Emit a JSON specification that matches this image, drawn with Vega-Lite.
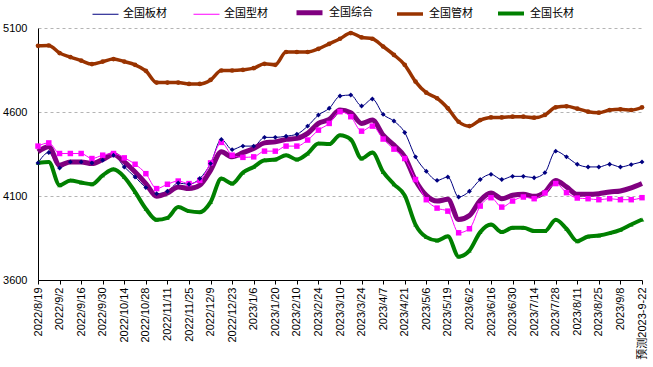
{
"$schema":"https://vega.github.io/schema/vega-lite/v6.json",
"width":604,"height":252,
"autosize":{"type":"none"},
"padding":{"left":38,"top":28,"right":11,"bottom":87},
"background":"white",
"config":{"view":{"stroke":null},"font":"Liberation Sans, Noto Sans CJK SC, sans-serif"},
"data":{"values":[
{"d":"2022/8/19","s":"全国板材","v":4297},{"d":"2022/8/26","s":"全国板材","v":4359},{"d":"2022/9/2","s":"全国板材","v":4267},{"d":"2022/9/9","s":"全国板材","v":4303},{"d":"2022/9/16","s":"全国板材","v":4303},{"d":"2022/9/23","s":"全国板材","v":4297},{"d":"2022/9/30","s":"全国板材","v":4313},{"d":"2022/10/7","s":"全国板材","v":4343},{"d":"2022/10/14","s":"全国板材","v":4273},{"d":"2022/10/21","s":"全国板材","v":4213},
{"d":"2022/10/28","s":"全国板材","v":4150},{"d":"2022/11/4","s":"全国板材","v":4114},{"d":"2022/11/11","s":"全国板材","v":4128},{"d":"2022/11/18","s":"全国板材","v":4177},{"d":"2022/11/25","s":"全国板材","v":4170},{"d":"2022/12/2","s":"全国板材","v":4204},{"d":"2022/12/9","s":"全国板材","v":4293},{"d":"2022/12/16","s":"全国板材","v":4437},{"d":"2022/12/23","s":"全国板材","v":4376},{"d":"2022/12/30","s":"全国板材","v":4397},
{"d":"2023/1/6","s":"全国板材","v":4397},{"d":"2023/1/13","s":"全国板材","v":4449},{"d":"2023/1/20","s":"全国板材","v":4449},{"d":"2023/2/3","s":"全国板材","v":4456},{"d":"2023/2/10","s":"全国板材","v":4468},{"d":"2023/2/17","s":"全国板材","v":4516},{"d":"2023/2/24","s":"全国板材","v":4582},{"d":"2023/3/3","s":"全国板材","v":4622},{"d":"2023/3/10","s":"全国板材","v":4695},{"d":"2023/3/17","s":"全国板材","v":4701},
{"d":"2023/3/24","s":"全国板材","v":4636},{"d":"2023/3/31","s":"全国板材","v":4677},{"d":"2023/4/7","s":"全国板材","v":4586},{"d":"2023/4/14","s":"全国板材","v":4546},{"d":"2023/4/21","s":"全国板材","v":4478},{"d":"2023/4/28","s":"全国板材","v":4333},{"d":"2023/5/6","s":"全国板材","v":4247},{"d":"2023/5/12","s":"全国板材","v":4193},{"d":"2023/5/19","s":"全国板材","v":4213},{"d":"2023/5/26","s":"全国板材","v":4094},
{"d":"2023/6/2","s":"全国板材","v":4128},{"d":"2023/6/9","s":"全国板材","v":4198},{"d":"2023/6/16","s":"全国板材","v":4229},{"d":"2023/6/21","s":"全国板材","v":4198},{"d":"2023/6/30","s":"全国板材","v":4217},{"d":"2023/7/7","s":"全国板材","v":4217},{"d":"2023/7/14","s":"全国板材","v":4209},{"d":"2023/7/21","s":"全国板材","v":4239},{"d":"2023/7/28","s":"全国板材","v":4367},{"d":"2023/8/4","s":"全国板材","v":4333},
{"d":"2023/8/11","s":"全国板材","v":4289},{"d":"2023/8/18","s":"全国板材","v":4273},{"d":"2023/8/25","s":"全国板材","v":4273},{"d":"2023/9/1","s":"全国板材","v":4289},{"d":"2023/9/8","s":"全国板材","v":4273},{"d":"2023/9/15","s":"全国板材","v":4287},{"d":"预测2023-9-22","s":"全国板材","v":4303},

{"d":"2022/8/19","s":"全国综合","v":4363},{"d":"2022/8/26","s":"全国综合","v":4393},{"d":"2022/9/2","s":"全国综合","v":4283},{"d":"2022/9/9","s":"全国综合","v":4303},{"d":"2022/9/16","s":"全国综合","v":4303},{"d":"2022/9/23","s":"全国综合","v":4293},{"d":"2022/9/30","s":"全国综合","v":4317},{"d":"2022/10/7","s":"全国综合","v":4347},{"d":"2022/10/14","s":"全国综合","v":4303},{"d":"2022/10/21","s":"全国综合","v":4243},
{"d":"2022/10/28","s":"全国综合","v":4174},{"d":"2022/11/4","s":"全国综合","v":4098},{"d":"2022/11/11","s":"全国综合","v":4118},{"d":"2022/11/18","s":"全国综合","v":4154},{"d":"2022/11/25","s":"全国综合","v":4144},{"d":"2022/12/2","s":"全国综合","v":4164},{"d":"2022/12/9","s":"全国综合","v":4253},{"d":"2022/12/16","s":"全国综合","v":4363},{"d":"2022/12/23","s":"全国综合","v":4333},{"d":"2022/12/30","s":"全国综合","v":4358},
{"d":"2023/1/6","s":"全国综合","v":4383},{"d":"2023/1/13","s":"全国综合","v":4416},{"d":"2023/1/20","s":"全国综合","v":4422},{"d":"2023/2/3","s":"全国综合","v":4437},{"d":"2023/2/10","s":"全国综合","v":4443},{"d":"2023/2/17","s":"全国综合","v":4473},{"d":"2023/2/24","s":"全国综合","v":4532},{"d":"2023/3/3","s":"全国综合","v":4556},{"d":"2023/3/10","s":"全国综合","v":4612},{"d":"2023/3/17","s":"全国综合","v":4596},
{"d":"2023/3/24","s":"全国综合","v":4532},{"d":"2023/3/31","s":"全国综合","v":4552},{"d":"2023/4/7","s":"全国综合","v":4462},{"d":"2023/4/14","s":"全国综合","v":4403},{"d":"2023/4/21","s":"全国综合","v":4333},{"d":"2023/4/28","s":"全国综合","v":4193},{"d":"2023/5/6","s":"全国综合","v":4104},{"d":"2023/5/12","s":"全国综合","v":4070},{"d":"2023/5/19","s":"全国综合","v":4080},{"d":"2023/5/26","s":"全国综合","v":3960},
{"d":"2023/6/2","s":"全国综合","v":3984},{"d":"2023/6/9","s":"全国综合","v":4074},{"d":"2023/6/16","s":"全国综合","v":4118},{"d":"2023/6/21","s":"全国综合","v":4084},{"d":"2023/6/30","s":"全国综合","v":4104},{"d":"2023/7/7","s":"全国综合","v":4110},{"d":"2023/7/14","s":"全国综合","v":4098},{"d":"2023/7/21","s":"全国综合","v":4124},{"d":"2023/7/28","s":"全国综合","v":4193},{"d":"2023/8/4","s":"全国综合","v":4154},
{"d":"2023/8/11","s":"全国综合","v":4110},{"d":"2023/8/18","s":"全国综合","v":4110},{"d":"2023/8/25","s":"全国综合","v":4114},{"d":"2023/9/1","s":"全国综合","v":4124},{"d":"2023/9/8","s":"全国综合","v":4130},{"d":"2023/9/15","s":"全国综合","v":4148},{"d":"预测2023-9-22","s":"全国综合","v":4174},

{"d":"2022/8/19","s":"全国管材","v":4994},{"d":"2022/8/26","s":"全国管材","v":4996},{"d":"2022/9/2","s":"全国管材","v":4951},{"d":"2022/9/9","s":"全国管材","v":4927},{"d":"2022/9/16","s":"全国管材","v":4906},{"d":"2022/9/23","s":"全国管材","v":4885},{"d":"2022/9/30","s":"全国管材","v":4900},{"d":"2022/10/7","s":"全国管材","v":4915},{"d":"2022/10/14","s":"全国管材","v":4900},{"d":"2022/10/21","s":"全国管材","v":4881},
{"d":"2022/10/28","s":"全国管材","v":4845},{"d":"2022/11/4","s":"全国管材","v":4775},{"d":"2022/11/11","s":"全国管材","v":4775},{"d":"2022/11/18","s":"全国管材","v":4775},{"d":"2022/11/25","s":"全国管材","v":4767},{"d":"2022/12/2","s":"全国管材","v":4767},{"d":"2022/12/9","s":"全国管材","v":4791},{"d":"2022/12/16","s":"全国管材","v":4847},{"d":"2022/12/23","s":"全国管材","v":4847},{"d":"2022/12/30","s":"全国管材","v":4851},
{"d":"2023/1/6","s":"全国管材","v":4861},{"d":"2023/1/13","s":"全国管材","v":4887},{"d":"2023/1/20","s":"全国管材","v":4881},{"d":"2023/2/3","s":"全国管材","v":4957},{"d":"2023/2/10","s":"全国管材","v":4957},{"d":"2023/2/17","s":"全国管材","v":4957},{"d":"2023/2/24","s":"全国管材","v":4976},{"d":"2023/3/3","s":"全国管材","v":5006},{"d":"2023/3/10","s":"全国管材","v":5036},{"d":"2023/3/17","s":"全国管材","v":5070},
{"d":"2023/3/24","s":"全国管材","v":5044},{"d":"2023/3/31","s":"全国管材","v":5036},{"d":"2023/4/7","s":"全国管材","v":4990},{"d":"2023/4/14","s":"全国管材","v":4940},{"d":"2023/4/21","s":"全国管材","v":4881},{"d":"2023/4/28","s":"全国管材","v":4781},{"d":"2023/5/6","s":"全国管材","v":4715},{"d":"2023/5/12","s":"全国管材","v":4682},{"d":"2023/5/19","s":"全国管材","v":4622},{"d":"2023/5/26","s":"全国管材","v":4542},
{"d":"2023/6/2","s":"全国管材","v":4516},{"d":"2023/6/9","s":"全国管材","v":4552},{"d":"2023/6/16","s":"全国管材","v":4568},{"d":"2023/6/21","s":"全国管材","v":4568},{"d":"2023/6/30","s":"全国管材","v":4572},{"d":"2023/7/7","s":"全国管材","v":4572},{"d":"2023/7/14","s":"全国管材","v":4566},{"d":"2023/7/21","s":"全国管材","v":4582},{"d":"2023/7/28","s":"全国管材","v":4628},{"d":"2023/8/4","s":"全国管材","v":4634},
{"d":"2023/8/11","s":"全国管材","v":4620},{"d":"2023/8/18","s":"全国管材","v":4602},{"d":"2023/8/25","s":"全国管材","v":4596},{"d":"2023/9/1","s":"全国管材","v":4612},{"d":"2023/9/8","s":"全国管材","v":4616},{"d":"2023/9/15","s":"全国管材","v":4612},{"d":"预测2023-9-22","s":"全国管材","v":4628},

{"d":"2022/8/19","s":"全国长材","v":4297},{"d":"2022/8/26","s":"全国长材","v":4303},{"d":"2022/9/2","s":"全国长材","v":4164},{"d":"2022/9/9","s":"全国长材","v":4193},{"d":"2022/9/16","s":"全国长材","v":4180},{"d":"2022/9/23","s":"全国长材","v":4170},{"d":"2022/9/30","s":"全国长材","v":4223},{"d":"2022/10/7","s":"全国长材","v":4259},{"d":"2022/10/14","s":"全国长材","v":4213},{"d":"2022/10/21","s":"全国长材","v":4124},
{"d":"2022/10/28","s":"全国长材","v":4024},{"d":"2022/11/4","s":"全国长材","v":3958},{"d":"2022/11/11","s":"全国长材","v":3970},{"d":"2022/11/18","s":"全国长材","v":4034},{"d":"2022/11/25","s":"全国长材","v":4010},{"d":"2022/12/2","s":"全国长材","v":4004},{"d":"2022/12/9","s":"全国长材","v":4064},{"d":"2022/12/16","s":"全国长材","v":4204},{"d":"2022/12/23","s":"全国长材","v":4174},{"d":"2022/12/30","s":"全国长材","v":4240},
{"d":"2023/1/6","s":"全国长材","v":4273},{"d":"2023/1/13","s":"全国长材","v":4313},{"d":"2023/1/20","s":"全国长材","v":4317},{"d":"2023/2/3","s":"全国长材","v":4343},{"d":"2023/2/10","s":"全国长材","v":4317},{"d":"2023/2/17","s":"全国长材","v":4353},{"d":"2023/2/24","s":"全国长材","v":4413},{"d":"2023/3/3","s":"全国长材","v":4409},{"d":"2023/3/10","s":"全国长材","v":4462},{"d":"2023/3/17","s":"全国长材","v":4437},
{"d":"2023/3/24","s":"全国长材","v":4323},{"d":"2023/3/31","s":"全国长材","v":4359},{"d":"2023/4/7","s":"全国长材","v":4243},{"d":"2023/4/14","s":"全国长材","v":4170},{"d":"2023/4/21","s":"全国长材","v":4104},{"d":"2023/4/28","s":"全国长材","v":3930},{"d":"2023/5/6","s":"全国长材","v":3855},{"d":"2023/5/12","s":"全国长材","v":3835},{"d":"2023/5/19","s":"全国长材","v":3860},{"d":"2023/5/26","s":"全国长材","v":3739},
{"d":"2023/6/2","s":"全国长材","v":3775},{"d":"2023/6/9","s":"全国长材","v":3885},{"d":"2023/6/16","s":"全国长材","v":3930},{"d":"2023/6/21","s":"全国长材","v":3885},{"d":"2023/6/30","s":"全国长材","v":3911},{"d":"2023/7/7","s":"全国长材","v":3911},{"d":"2023/7/14","s":"全国长材","v":3891},{"d":"2023/7/21","s":"全国长材","v":3891},{"d":"2023/7/28","s":"全国长材","v":3958},{"d":"2023/8/4","s":"全国长材","v":3905},
{"d":"2023/8/11","s":"全国长材","v":3831},{"d":"2023/8/18","s":"全国长材","v":3859},{"d":"2023/8/25","s":"全国长材","v":3865},{"d":"2023/9/1","s":"全国长材","v":3879},{"d":"2023/9/8","s":"全国长材","v":3899},{"d":"2023/9/15","s":"全国长材","v":3930},{"d":"预测2023-9-22","s":"全国长材","v":3960},

{"d":"2022/8/19","s":"全国型材","v":4397},{"d":"2022/8/26","s":"全国型材","v":4416},{"d":"2022/9/2","s":"全国型材","v":4353},{"d":"2022/9/9","s":"全国型材","v":4353},{"d":"2022/9/16","s":"全国型材","v":4353},{"d":"2022/9/23","s":"全国型材","v":4323},{"d":"2022/9/30","s":"全国型材","v":4343},{"d":"2022/10/7","s":"全国型材","v":4353},{"d":"2022/10/14","s":"全国型材","v":4327},{"d":"2022/10/21","s":"全国型材","v":4289},
{"d":"2022/10/28","s":"全国型材","v":4233},{"d":"2022/11/4","s":"全国型材","v":4144},{"d":"2022/11/11","s":"全国型材","v":4170},{"d":"2022/11/18","s":"全国型材","v":4189},{"d":"2022/11/25","s":"全国型材","v":4174},{"d":"2022/12/2","s":"全国型材","v":4193},{"d":"2022/12/9","s":"全国型材","v":4297},{"d":"2022/12/16","s":"全国型材","v":4419},{"d":"2022/12/23","s":"全国型材","v":4343},{"d":"2022/12/30","s":"全国型材","v":4330},
{"d":"2023/1/6","s":"全国型材","v":4333},{"d":"2023/1/13","s":"全国型材","v":4367},{"d":"2023/1/20","s":"全国型材","v":4367},{"d":"2023/2/3","s":"全国型材","v":4397},{"d":"2023/2/10","s":"全国型材","v":4397},{"d":"2023/2/17","s":"全国型材","v":4433},{"d":"2023/2/24","s":"全国型材","v":4492},{"d":"2023/3/3","s":"全国型材","v":4532},{"d":"2023/3/10","s":"全国型材","v":4602},{"d":"2023/3/17","s":"全国型材","v":4572},
{"d":"2023/3/24","s":"全国型材","v":4486},{"d":"2023/3/31","s":"全国型材","v":4516},{"d":"2023/4/7","s":"全国型材","v":4439},{"d":"2023/4/14","s":"全国型材","v":4379},{"d":"2023/4/21","s":"全国型材","v":4323},{"d":"2023/4/28","s":"全国型材","v":4198},{"d":"2023/5/6","s":"全国型材","v":4078},{"d":"2023/5/12","s":"全国型材","v":4028},{"d":"2023/5/19","s":"全国型材","v":4010},{"d":"2023/5/26","s":"全国型材","v":3881},
{"d":"2023/6/2","s":"全国型材","v":3905},{"d":"2023/6/9","s":"全国型材","v":4040},{"d":"2023/6/16","s":"全国型材","v":4090},{"d":"2023/6/21","s":"全国型材","v":4034},{"d":"2023/6/30","s":"全国型材","v":4070},{"d":"2023/7/7","s":"全国型材","v":4094},{"d":"2023/7/14","s":"全国型材","v":4084},{"d":"2023/7/21","s":"全国型材","v":4118},{"d":"2023/7/28","s":"全国型材","v":4174},{"d":"2023/8/4","s":"全国型材","v":4120},
{"d":"2023/8/11","s":"全国型材","v":4088},{"d":"2023/8/18","s":"全国型材","v":4084},{"d":"2023/8/25","s":"全国型材","v":4078},{"d":"2023/9/1","s":"全国型材","v":4084},{"d":"2023/9/8","s":"全国型材","v":4078},{"d":"2023/9/15","s":"全国型材","v":4078},{"d":"预测2023-9-22","s":"全国型材","v":4090}
]},
"encoding":{
 "x":{"field":"d","type":"ordinal",
  "scale":{"type":"point","padding":0,"domain":["2022/8/19","2022/8/26","2022/9/2","2022/9/9","2022/9/16","2022/9/23","2022/9/30","2022/10/7","2022/10/14","2022/10/21","2022/10/28","2022/11/4","2022/11/11","2022/11/18","2022/11/25","2022/12/2","2022/12/9","2022/12/16","2022/12/23","2022/12/30","2023/1/6","2023/1/13","2023/1/20","2023/2/3","2023/2/10","2023/2/17","2023/2/24","2023/3/3","2023/3/10","2023/3/17","2023/3/24","2023/3/31","2023/4/7","2023/4/14","2023/4/21","2023/4/28","2023/5/6","2023/5/12","2023/5/19","2023/5/26","2023/6/2","2023/6/9","2023/6/16","2023/6/21","2023/6/30","2023/7/7","2023/7/14","2023/7/21","2023/7/28","2023/8/4","2023/8/11","2023/8/18","2023/8/25","2023/9/1","2023/9/8","2023/9/15","预测2023-9-22"]},
  "axis":{"title":null,"values":["2022/8/19","2022/9/2","2022/9/16","2022/9/30","2022/10/14","2022/10/28","2022/11/11","2022/11/25","2022/12/9","2022/12/23","2023/1/6","2023/1/20","2023/2/10","2023/2/24","2023/3/10","2023/3/24","2023/4/7","2023/4/21","2023/5/6","2023/5/19","2023/6/2","2023/6/16","2023/6/30","2023/7/14","2023/7/28","2023/8/11","2023/8/25","2023/9/8","预测2023-9-22"],
   "labelAngle":-90,"labelFontSize":11,"labelColor":"black","labelPadding":3,"labelOverlap":false,"labelBound":false,"tickSize":4,"tickColor":"black","domainColor":"black","grid":false}},
 "y":{"field":"v","type":"quantitative","scale":{"domain":[3600,5100],"nice":false,"zero":false},
  "axis":{"title":null,"values":[3600,4100,4600,5100],"format":"d","tickSize":0,"labelPadding":11,"labelFontSize":11,"labelColor":"black","domainColor":"black","grid":true,"gridDash":[3,3],"gridColor":"#b4b4b4"}}
},
"layer":[
 {"mark":{"type":"line","interpolate":"monotone"},
  "encoding":{
   "color":{"field":"s","type":"nominal","scale":{"domain":["全国板材","全国型材","全国综合","全国管材","全国长材"],"range":["#000080","#FF00FF","#800080","#993300","#008000"]},
    "legend":{"title":null,"orient":"none","legendX":54,"legendY":-31,"direction":"horizontal","gridAlign":"all","symbolType":"stroke","symbolSize":676,"labelFontSize":11,"labelColor":"black","labelOffset":4,"columnPadding":14}},
   "strokeWidth":{"field":"s","type":"nominal","scale":{"type":"ordinal","domain":["全国板材","全国型材","全国综合","全国管材","全国长材"],"range":[1,1,5,3.5,4]},
    "legend":{"title":null,"orient":"none","legendX":54,"legendY":-31,"direction":"horizontal","gridAlign":"all","symbolType":"stroke","symbolSize":676,"labelFontSize":11,"labelColor":"black","labelOffset":4,"columnPadding":14}}
  }},
 {"transform":[{"filter":"datum.s === '全国管材'"}],"mark":{"type":"point","shape":"circle","filled":true,"size":22,"color":"#993300","opacity":1}},
 {"transform":[{"filter":"datum.s === '全国长材'"}],"mark":{"type":"point","shape":"triangle-up","filled":true,"size":20,"color":"#008000","opacity":1}},
 {"transform":[{"filter":"datum.s === '全国型材'"}],"mark":{"type":"point","shape":"square","filled":true,"size":30,"color":"#FF00FF","opacity":1}},
 {"transform":[{"filter":"datum.s === '全国板材'"}],"mark":{"type":"point","shape":"diamond","filled":true,"size":24,"color":"#000080","opacity":1}}
]
}
